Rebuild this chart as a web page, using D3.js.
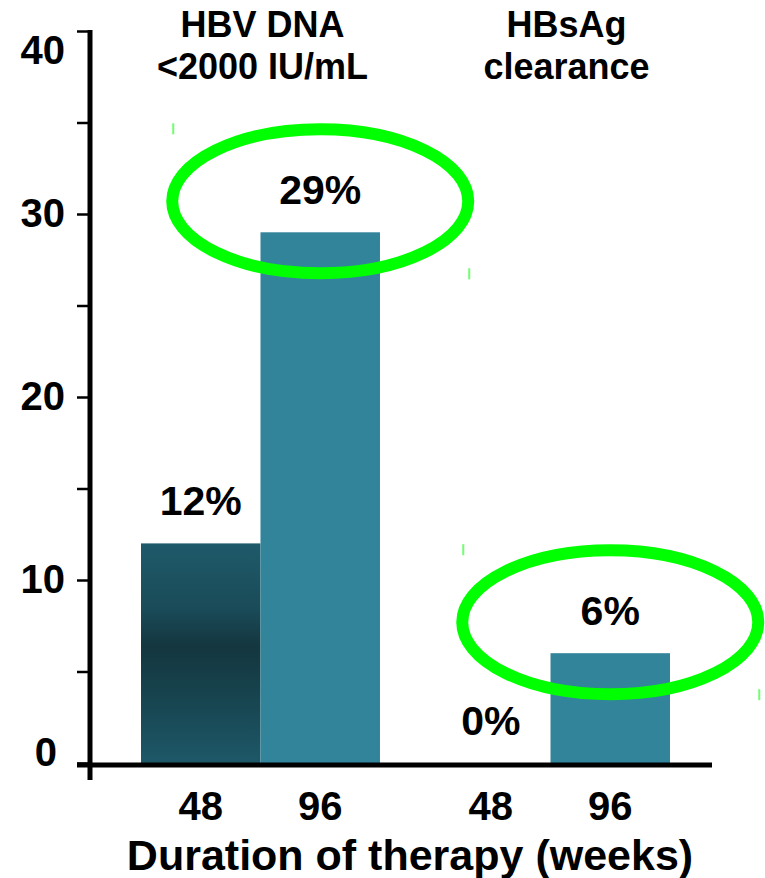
<!DOCTYPE html>
<html>
<head>
<meta charset="utf-8">
<script src="https://cdn.jsdelivr.net/npm/d3@7"></script>
<style>
  html, body { margin: 0; padding: 0; background: #fff; }
  svg { display: block; }
  text { font-family: "Liberation Sans", Arial, Helvetica, sans-serif; font-weight: bold; fill: #000; }
</style>
</head>
<body>
<svg id="chart" width="765" height="878"></svg>
<script>
// Response rates (%) by duration of therapy
const groupTitles = [["HBV DNA", "<2000 IU/mL"], ["HBsAg", "clearance"]];
const durations = ["48", "96"];
const hbvDnaPct = [12, 29];
const hbsagClearancePct = [0, 6];
const yTickValues = [0, 5, 10, 15, 20, 25, 30, 35, 40];
const yTickLabels = [0, 10, 20, 30, 40];
const xTitle = "Duration of therapy (weeks)";
const highlightedDuration = "96";

const seriesByGroup = [hbvDnaPct, hbsagClearancePct];
const bars = [];
seriesByGroup.forEach((vals, g) => {
  durations.forEach((d, i) => bars.push({ group: g, duration: d, value: vals[i] }));
});

const svg = d3.select("#chart");

const y = d3.scaleLinear().domain([0, 40]).range([763, 31]);
const x0 = d3.scaleBand().domain(d3.range(groupTitles.length)).range([141, 670]).paddingInner(0.176);
const x1 = d3.scaleBand().domain(durations).range([0, x0.bandwidth()]);
const barCenter = b => x0(b.group) + x1(b.duration) + x1.bandwidth() / 2;

// Shaded fill for the 48-week bars
const defs = svg.append("defs");
const grad = defs.append("linearGradient")
  .attr("id", "darkBar").attr("x1", 0).attr("y1", 0).attr("x2", 0).attr("y2", 1);
[[0, "#1f5a6a"], [0.3, "#1a4b58"], [0.47, "#14363f"], [0.7, "#17444f"], [1, "#1e5868"]]
  .forEach(([o, c]) => grad.append("stop").attr("offset", o).attr("stop-color", c));

// Bars
svg.append("g").selectAll("rect").data(bars).join("rect")
  .attr("x", b => x0(b.group) + x1(b.duration))
  .attr("width", x1.bandwidth())
  .attr("y", b => y(b.value))
  .attr("height", b => y(0) - y(b.value))
  .attr("fill", b => b.duration === "48" ? "url(#darkBar)" : "#31849a");

// Y axis
const axisX = 90;
const yAxis = svg.append("g").attr("transform", `translate(${axisX},0)`)
  .call(d3.axisLeft(y).tickValues(yTickValues).tickSize(13).tickPadding(12)
    .tickFormat(d => yTickLabels.includes(d) ? d : ""));
yAxis.select(".domain").remove();
yAxis.selectAll(".tick line").attr("stroke", "#000").attr("stroke-width", 2.5);
yAxis.selectAll(".tick text")
  .attr("fill", "#000")
  .style("font-size", "40px")
  .attr("dy", d => d === 40 ? "0.8em" : d === 0 ? "0.07em" : "0.32em")
  .attr("x", d => d === 0 ? -33 : -25);

// Axis lines
svg.append("line")
  .attr("x1", axisX).attr("x2", axisX)
  .attr("y1", y(40) - 1).attr("y2", y(0) + 17)
  .attr("stroke", "#000").attr("stroke-width", 5);
svg.append("line")
  .attr("x1", axisX - 13).attr("x2", x0.range()[1] + 42)
  .attr("y1", y(0) + 2).attr("y2", y(0) + 2)
  .attr("stroke", "#000").attr("stroke-width", 5);

// Value labels
svg.append("g").selectAll("text").data(bars).join("text")
  .attr("x", barCenter)
  .attr("y", b => y(b.value) - 28)
  .attr("text-anchor", "middle")
  .style("font-size", "41px")
  .text(b => b.value + "%");

// Highlight rings around the 96-week results
const rx = 148, ry = 72;
const hl = bars.filter(b => b.duration === highlightedDuration);
const rings = svg.append("g");
hl.forEach(b => {
  const cx = barCenter(b), cy = y(b.value) - 31;
  rings.append("ellipse")
    .attr("cx", cx).attr("cy", cy).attr("rx", rx).attr("ry", ry)
    .attr("fill", "none").attr("stroke", "#00ff00").attr("stroke-width", 12);
  rings.append("line")
    .attr("x1", cx - rx - 6 + 7).attr("x2", cx - rx - 6 + 7)
    .attr("y1", cy - ry - 6).attr("y2", cy - ry + 5)
    .attr("stroke", "#6fff6f").attr("stroke-width", 2);
  rings.append("line")
    .attr("x1", cx + rx + 6 - 5).attr("x2", cx + rx + 6 - 5)
    .attr("y1", cy + ry - 5).attr("y2", cy + ry + 6)
    .attr("stroke", "#6fff6f").attr("stroke-width", 2);
});

// Group headers
const headerShift = [2, 16];
groupTitles.forEach((lines, g) => {
  const t = svg.append("text")
    .attr("text-anchor", "middle")
    .style("font-size", "36px");
  lines.forEach((ln, i) => {
    t.append("tspan")
      .attr("x", x0(g) + x0.bandwidth() / 2 + headerShift[g])
      .attr("y", 37 + i * 42)
      .text(ln);
  });
});

// Duration tick labels
svg.append("g").selectAll("text").data(bars).join("text")
  .attr("x", barCenter)
  .attr("y", 820)
  .attr("text-anchor", "middle")
  .style("font-size", "40px")
  .text(b => b.duration);

// X axis title
svg.append("text")
  .attr("x", 410).attr("y", 870)
  .attr("text-anchor", "middle")
  .style("font-size", "43px")
  .text(xTitle);
</script>
</body>
</html>
